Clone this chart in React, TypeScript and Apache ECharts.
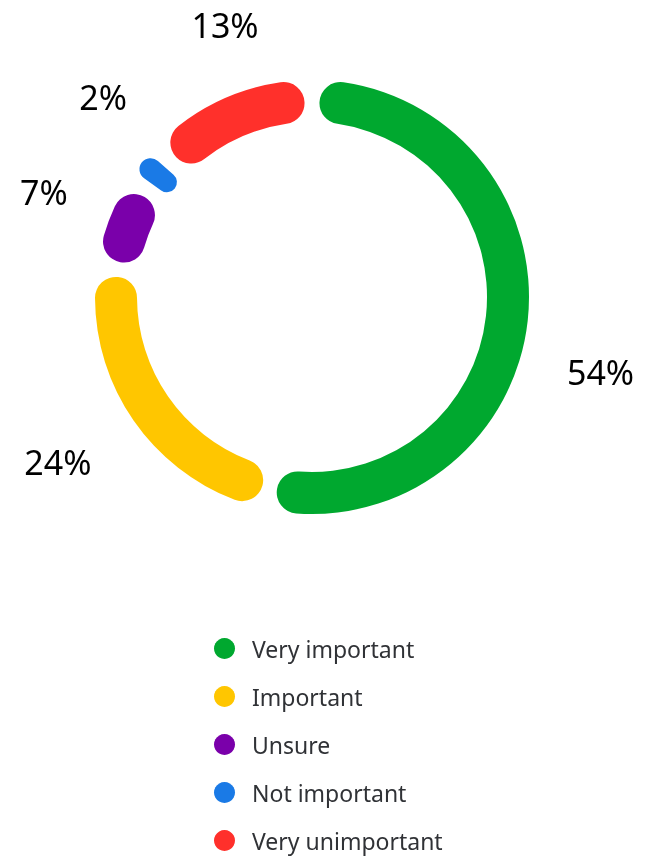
import React, { useEffect, useRef } from 'react';
import * as echarts from 'echarts';

const categories = ['Very important', 'Important', 'Unsure', 'Not important', 'Very unimportant'];
const shares = [54, 24, 7, 2, 13];
const colors = ['#00a82f', '#ffc600', '#7a00aa', '#1a7ae6', '#ff302b'];

export default function App() {
  const ref = useRef<HTMLDivElement>(null);
  useEffect(() => {
    const chart = echarts.init(ref.current!, null, { renderer: 'svg' });
    const cx = 312;
    const cy = 297;
    const total = shares.reduce((a, b) => a + b, 0);
    const mids: number[] = [];
    let acc = 0;
    shares.forEach((v) => {
      mids.push(90 - ((acc + v / 2) / total) * 360);
      acc += v;
    });
    const nudge = [-7.3, 0.6, 2, -4.1, -5.7];
    const labelR = [298, 303, 288, 289, 286];
    chart.setOption({
      animation: false,
      legend: {
        orient: 'vertical',
        left: 214,
        top: 637,
        height: 300,
        padding: 0,
        icon: 'circle',
        itemWidth: 21,
        itemHeight: 21,
        itemGap: 25,
        selectedMode: false,
        textStyle: { fontSize: 23, color: '#303236', fontFamily: 'Noto Sans', padding: [0, 0, 0, 12] },
        data: categories,
      },
      series: [
        {
          type: 'pie',
          center: [cx, cy],
          radius: [175, 217],
          startAngle: 90,
          clockwise: true,
          padAngle: 4.4,
          minAngle: 6.2,
          itemStyle: { borderRadius: 21 },
          label: {
            show: true,
            position: 'outside',
            formatter: '{c}%',
            fontSize: 34,
            color: '#000',
            fontFamily: 'Noto Sans',
            overflow: 'none',
          },
          labelLine: { show: false },
          emphasis: { disabled: true },
          labelLayout: (p: any) => {
            const i = p.dataIndex;
            const a = ((mids[i] + nudge[i]) * Math.PI) / 180;
            return {
              x: cx + labelR[i] * Math.cos(a),
              y: cy - labelR[i] * Math.sin(a),
              align: 'center',
              verticalAlign: 'middle',
            };
          },
          data: categories.map((n, i) => ({ name: n, value: shares[i], itemStyle: { color: colors[i] } })),
        },
      ],
    });
    return () => chart.dispose();
  }, []);
  return <div ref={ref} style={{ position: 'fixed', left: 0, top: 0, width: 646, height: 859 }} />;
}
